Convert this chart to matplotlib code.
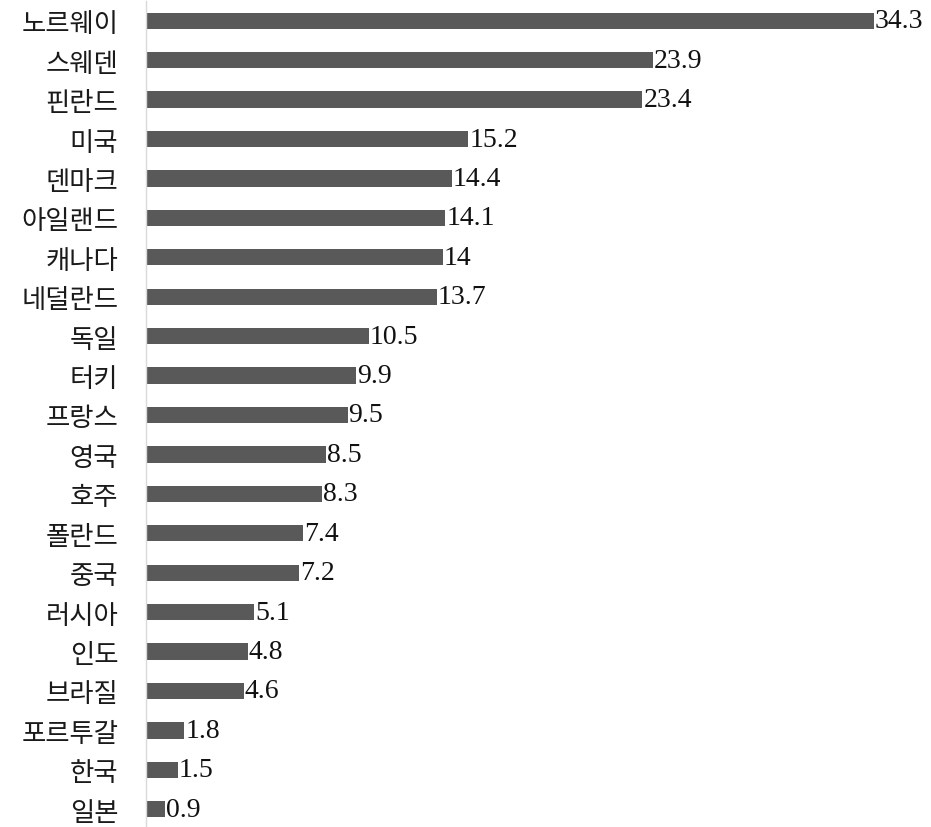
import matplotlib
matplotlib.use("Agg")
import matplotlib.pyplot as plt

countries = ["노르웨이", "스웨덴", "핀란드", "미국", "덴마크", "아일랜드", "캐나다",
             "네덜란드", "독일", "터키", "프랑스", "영국", "호주", "폴란드", "중국",
             "러시아", "인도", "브라질", "포르투갈", "한국", "일본"]
values = [34.3, 23.9, 23.4, 15.2, 14.4, 14.1, 14, 13.7, 10.5, 9.9, 9.5, 8.5, 8.3,
          7.4, 7.2, 5.1, 4.8, 4.6, 1.8, 1.5, 0.9]
value_labels = ["34.3", "23.9", "23.4", "15.2", "14.4", "14.1", "14", "13.7", "10.5",
                "9.9", "9.5", "8.5", "8.3", "7.4", "7.2", "5.1", "4.8", "4.6", "1.8",
                "1.5", "0.9"]

fig = plt.figure(figsize=(9.31, 8.28), dpi=100)
ax = fig.add_axes([146 / 931, -2 / 828, 1 - 146 / 931, 1.0])

pos = list(range(len(countries)))
ax.barh(pos, values, height=0.41, color="#595959")
ax.set_ylim(len(countries) - 0.5, -0.5)
ax.set_xlim(0, 37.0)

for p, v, lab in zip(pos, values, value_labels):
    ax.text(v + 0.05, p, lab, va="center", ha="left",
            family="Liberation Serif", fontsize=20, color="#111111")

ax.set_yticks(pos)
ax.set_yticklabels(countries, family=["Noto Sans CJK KR", "DejaVu Sans"],
                   fontsize=19, color="#1a1a1a")
ax.tick_params(axis="y", length=0, pad=20)
ax.set_xticks([])
for side in ["top", "right", "bottom"]:
    ax.spines[side].set_visible(False)
ax.spines["left"].set_color("#d9d9d9")
ax.spines["left"].set_linewidth(1.0)

fig.savefig("out.png", dpi=100)
